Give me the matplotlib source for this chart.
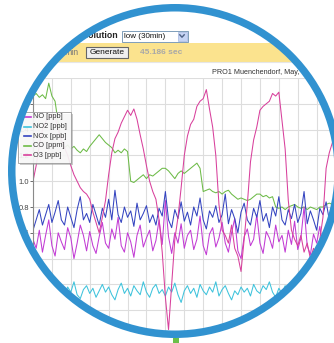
import matplotlib.pyplot as plt
from matplotlib.patches import Circle, Rectangle, PathPatch
from matplotlib.path import Path

plt.rcParams['font.family'] = ['Liberation Sans', 'DejaVu Sans']

# hourly values, 4 days
hours = list(range(96))

no_ppb = [
    0.55, 0.48, 0.62, 0.45, 0.58, 0.70, 0.50, 0.42, 0.60, 0.53, 0.47, 0.64,
    0.56, 0.40, 0.52, 0.66, 0.58, 0.46, 0.61, 0.50, 0.44, 0.57, 0.68, 0.52,
    0.48, 0.63, 0.55, 0.72, 0.50, 0.45, 0.60, 0.53, 0.41, 0.58, 0.66, 0.49,
    0.56, 0.62, 0.46, 0.54, 0.70, 0.51, 0.85, 0.57, 0.44, 0.60, 0.52, 0.67,
    0.48, 0.58, 0.62, 0.47, 0.55, 0.73, 0.50, 0.43, 0.59, 0.64, 0.49, 0.56,
    0.68, 0.52, 0.45, 0.60, 0.71, 0.46, 0.40, 0.57, 0.63, 0.50, 0.55, 0.74,
    0.52, 0.44, 0.61, 0.56, 0.48, 0.66, 0.53, 0.58, 0.45, 0.62, 0.51, 0.69,
    0.47, 0.56, 0.80, 0.50, 0.43, 0.59, 0.52, 0.65, 0.48, 0.57, 0.62, 0.54,
]
no2_ppb = [
    0.14, 0.18, 0.12, 0.20, 0.15, 0.10, 0.17, 0.13, 0.21, 0.16, 0.11, 0.18,
    0.14, 0.22, 0.12, 0.09, 0.16, 0.19, 0.13, 0.17, 0.10, 0.15, 0.20, 0.14,
    0.18, 0.12, 0.08, 0.16, 0.21, 0.13, 0.17, 0.11, 0.19, 0.15, 0.12, 0.22,
    0.14, 0.10, 0.17, 0.20, 0.13, 0.16, 0.11, 0.18, 0.14, 0.21, 0.12, 0.06,
    0.15, 0.19, 0.13, 0.17, 0.10, 0.20, 0.15, 0.12, 0.18, 0.14, 0.22, 0.11,
    0.16, 0.19, 0.13, 0.08, 0.15, 0.12, 0.18, 0.14, 0.17, 0.11, 0.20, 0.15,
    0.13, 0.19, 0.16, 0.22, 0.14, 0.10, 0.17, 0.13, 0.19, 0.15, 0.12, 0.20,
    0.16, 0.23, 0.14, 0.18, 0.12, 0.17, 0.15, 0.21, 0.13, 0.18, 0.16, 0.14,
]
nox_ppb = [
    0.62, 0.70, 0.78, 0.66, 0.74, 0.82, 0.68, 0.76, 0.85, 0.70, 0.66, 0.80,
    0.72, 0.64, 0.78, 0.88, 0.70, 0.75, 0.68, 0.82, 0.74, 0.66, 0.79, 0.72,
    0.86, 0.70, 0.93, 0.74, 0.68, 0.80, 0.72, 0.77, 0.65, 0.83, 0.70, 0.75,
    0.81, 0.68, 0.74, 0.66, 0.79, 0.73, 0.92, 0.70, 0.64, 0.78, 0.71, 0.84,
    0.69, 0.76, 0.66, 0.80, 0.73, 0.87, 0.70, 0.63, 0.77, 0.72, 0.81, 0.68,
    0.74, 0.90, 0.67, 0.78, 0.71, 0.60, 0.76, 0.83, 0.70, 0.66, 0.79, 0.72,
    0.85, 0.69, 0.75, 0.64, 0.80, 0.73, 0.88, 0.70, 0.66, 0.78, 0.71, 0.82,
    0.68, 0.75, 0.92, 0.67, 0.77, 0.70, 0.62, 0.79, 0.74, 0.84, 0.70, 0.76,
]
co_ppm = [
    1.66, 1.68, 1.65, 1.67, 1.64, 1.76, 1.66, 1.62, 1.45, 1.30, 1.26, 1.28,
    1.25, 1.27, 1.24, 1.22, 1.25, 1.23, 1.27, 1.30, 1.33, 1.36, 1.33, 1.30,
    1.28, 1.26, 1.22, 1.24, 1.22, 1.25, 1.23, 1.00, 0.99, 1.01, 1.03, 1.05,
    1.02, 1.05, 1.04, 1.06, 1.08, 1.10, 1.10, 1.08, 1.05, 1.02, 1.06, 1.08,
    1.06, 1.08, 1.10, 1.12, 1.14, 1.10, 0.92, 0.93, 0.94, 0.92, 0.91, 0.92,
    0.90, 0.92, 0.93, 0.90, 0.88, 0.86, 0.87, 0.86, 0.85, 0.86, 0.88, 0.90,
    0.90, 0.88, 0.89, 0.87, 0.88, 0.80, 0.79, 0.80, 0.78, 0.80, 0.81, 0.82,
    0.80, 0.79, 0.80, 0.78, 0.80, 0.79, 0.78, 0.80, 0.80, 0.82, 0.83, 0.82,
]
o3_ppb = [
    1.00, 1.12, 1.28, 1.40, 1.46, 1.50, 1.52, 1.50, 1.40, 1.32, 1.26, 1.20,
    1.12, 1.05, 1.00, 0.95, 0.92, 0.90, 0.86, 0.76, 0.68, 0.60, 0.72, 0.85,
    1.05, 1.22, 1.33, 1.38, 1.45, 1.50, 1.55, 1.51, 1.56, 1.48, 1.36, 1.25,
    1.12, 1.00, 0.92, 0.86, 0.70, 0.45, 0.10, -0.15, 0.20, 0.55, 0.72, 0.95,
    1.20, 1.35, 1.44, 1.48, 1.58, 1.62, 1.64, 1.71, 1.56, 1.42, 1.20, 0.82,
    0.62, 0.58, 0.52, 0.66, 0.48, 0.42, 0.30, 0.55, 0.82, 1.15, 1.32, 1.42,
    1.55, 1.58, 1.60, 1.62, 1.68, 1.66, 1.69, 1.47, 1.25, 0.85, 0.62, 0.55,
    0.50, 0.58, 0.45, 0.52, 0.40, 0.48, 0.42, 0.55, 0.72, 1.10, 1.22, 1.30,
]

series_names = ['NO [ppb]', 'NO2 [ppb]', 'NOx [ppb]', 'CO [ppm]', 'O3 [ppb]']
series_values = [no_ppb, no2_ppb, nox_ppb, co_ppm, o3_ppb]
series_colors = ['#c23bd4', '#3ec3dc', '#3444c0', '#6dbb47', '#d8409c']
draw_order = [3, 1, 0, 2, 4]

y_ticks = [0.0, 0.2, 0.4, 0.6, 0.8, 1.0, 1.2, 1.4, 1.6, 1.8]
x_grid = list(range(0, 97, 6))

title_text = 'PRO1 Muenchendorf, May,'
resolution_choice = 'low (30min)'
run_time = '45.186 sec'

W, H = 334, 343
fig = plt.figure(figsize=(W / 100, H / 100), dpi=100)
fig.patch.set_facecolor('white')

# page layer in pixel coordinates
ui = fig.add_axes([0, 0, 1, 1])
ui.set_xlim(0, W)
ui.set_ylim(H, 0)
ui.axis('off')

cx, cy, r_out, ring_w = 175, 171, 167, 7.5
clip = Circle((cx, cy), r_out - 2, transform=ui.transData)

def clipped(artist):
    artist.set_clip_path(clip)
    return artist

# form controls
ui.text(118, 36, 'Resolution', ha='right', va='center', fontsize=6.3,
        fontweight='bold', color='#222222')
clipped(ui.add_patch(Rectangle((121.5, 30.5), 66, 11, fc='white', ec='#7f9db9', lw=0.7)))
clipped(ui.add_patch(Rectangle((177.5, 31.5), 9, 9, fc='#c6d4f4', ec='#a3b6e0', lw=0.5)))
ui.plot([179.8, 182, 184.2], [34.8, 37.2, 34.8], color='#4d6185', lw=1.0)
ui.text(124, 36.2, resolution_choice, ha='left', va='center', fontsize=5.8, color='#111111')

clipped(ui.add_patch(Rectangle((0, 43), W, 18.5, fc='#fbe38e', ec='none')))
clipped(ui.plot([0, W], [62, 62], color='#e6e6e6', lw=0.8)[0])
ui.text(79, 52.5, 'min', ha='right', va='center', fontsize=6.3, color='#777777')
clipped(ui.add_patch(Rectangle((85.5, 47), 42.5, 11, fc='#efefef', ec='#666666', lw=0.8)))
ui.text(106.7, 52.7, 'Generate', ha='center', va='center', fontsize=6, color='#111111')
ui.text(140, 52.7, run_time, ha='left', va='center', fontsize=6,
        fontweight='bold', color='#a8a8a8')

ui.text(212, 73, title_text, ha='left', va='center', fontsize=5.2, color='#333333')

# chart
ax = fig.add_axes([33 / W, (H - 336) / H, (W - 33) / W, (336 - 78) / H])
ax.set_xlim(0, 95.5)
ax.set_ylim(-0.2, 1.8)
ax.patch.set_visible(False)

for t in x_grid:
    ax.axvline(t, color='#dddddd', lw=0.8, zorder=0)
for v in y_ticks:
    ax.axhline(v, color='#dddddd', lw=0.8, zorder=0)

for i in draw_order:
    ax.plot(hours, series_values[i], color=series_colors[i], lw=0.75)

for side in ['top', 'right', 'bottom']:
    ax.spines[side].set_visible(False)
ax.spines['left'].set_color('#8a8a8a')
ax.spines['left'].set_linewidth(0.8)

ax.set_xticks([])
ax.set_yticks(y_ticks)
ax.set_yticklabels([f'{v:.1f}' for v in y_ticks])
ax.tick_params(axis='y', length=2, width=0.6, color='#555555', labelsize=5.5,
               labelcolor='#444444', pad=1)

# overlay layer: legend, lens mask and ring
top = fig.add_axes([0, 0, 1, 1])
top.set_xlim(0, W)
top.set_ylim(H, 0)
top.axis('off')
top.patch.set_visible(False)

top.add_patch(Rectangle((19.5, 113.5), 53, 51, fc='#999999', alpha=0.5, ec='none'))
top.add_patch(Rectangle((18, 112), 53, 51, fc='white', alpha=0.85, ec='#999999', lw=0.7))
for i, (name, color) in enumerate(zip(series_names, series_colors)):
    y = 117 + i * 9.6
    top.plot([24, 31], [y, y], color=color, lw=1.2)
    top.text(33, y, name, ha='left', va='center', fontsize=5.3, color='#333333')

# white everywhere outside the lens
pad = 20
outer = Path([(-pad, -pad), (-pad, H + pad), (W + pad, H + pad), (W + pad, -pad), (-pad, -pad)],
             [Path.MOVETO, Path.LINETO, Path.LINETO, Path.LINETO, Path.CLOSEPOLY])
hole = Path.circle((cx, cy), r_out - 2)
mask = Path.make_compound_path(outer, hole)
top.add_patch(PathPatch(mask, fc='white', ec='none', zorder=5))

top.add_patch(Circle((cx, cy), r_out - ring_w / 2, fill=False, ec='#3192d0',
                     lw=ring_w * 0.72, zorder=6))
top.add_patch(Rectangle((173, 337.5), 6, 6, fc='#6cc04a', ec='none', zorder=7))

fig.savefig('out.png', dpi=100)
